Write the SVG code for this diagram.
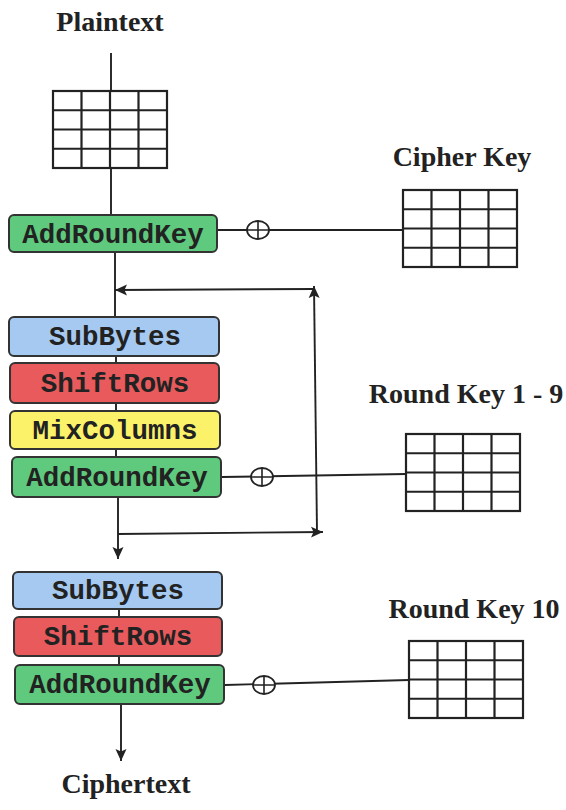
<svg xmlns="http://www.w3.org/2000/svg" width="566" height="810" viewBox="0 0 566 810">
<defs>
<style>
.lbl{font-family:"Liberation Serif","Times New Roman",serif;font-weight:bold;font-size:28px;fill:#222;text-anchor:middle}
.op{font-family:"Liberation Mono","Courier New",monospace;font-weight:bold;font-size:27.5px;fill:#222;text-anchor:middle}
.box{stroke:#333;stroke-width:2}
.sub{fill:#a5c9f0}
.shf{fill:#e85a5c}
.mix{fill:#fcf26a}
.ark{fill:#5fca7d}
.ln{stroke:#222;stroke-width:1.9;fill:none}
.grid{stroke:#222;stroke-width:2.2;fill:#fff}
.xor{stroke:#222;stroke-width:1.8;fill:#fff}
</style>
<marker id="ah" viewBox="0 0 12 12" refX="12" refY="6" markerWidth="12" markerHeight="12" markerUnits="userSpaceOnUse" orient="auto">
<path d="M0,0.5 L12,6 L0,11.5 L2.5,6 Z" fill="#222"/>
</marker>
<g id="gridtpl">
<rect class="grid" x="0" y="0" width="114" height="77"/>
<path class="grid" d="M28.5,0V77M57,0V77M85.5,0V77M0,19.25H114M0,38.5H114M0,57.75H114"/>
</g>
</defs>
<rect width="566" height="810" fill="#fff"/>

<g id="connectors">
<path class="ln" d="M111,53V215"/>
<path class="ln" d="M115,252V318"/>
<path class="ln" d="M116,356V458"/>
<path class="ln" d="M118,497V559" marker-end="url(#ah)"/>
<path class="ln" d="M119,609V666"/>
<path class="ln" d="M121,704V761" marker-end="url(#ah)"/>
<path class="ln" d="M118,534L323,532" marker-end="url(#ah)"/>
<path class="ln" d="M317,532L314,286" marker-end="url(#ah)"/>
<path class="ln" d="M314,289L115,290" marker-end="url(#ah)"/>
<path class="ln" d="M218,230H403"/>
<path class="ln" d="M222,477L406,474"/>
<path class="ln" d="M225,685L409,680"/>
</g>

<g id="plaintext"><text class="lbl" x="110" y="31">Plaintext</text></g>
<g id="state-grid"><use href="#gridtpl" x="53" y="91"/></g>

<g id="ark0"><rect class="box ark" x="9" y="215" width="208" height="37" rx="5"/><text class="op" x="113" y="243">AddRoundKey</text></g>
<g id="xor0"><ellipse class="xor" cx="258" cy="230" rx="11" ry="9"/><path class="ln" d="M247,230H269M258,221V239" style="stroke-width:1.6"/></g>
<g id="cipherkey"><text class="lbl" x="462" y="166">Cipher Key</text><use href="#gridtpl" x="403" y="190"/></g>

<g id="sub1"><rect class="box sub" x="9" y="317" width="210" height="39" rx="5"/><text class="op" x="115" y="345">SubBytes</text></g>
<g id="shift1"><rect class="box shf" x="10" y="363" width="209" height="40" rx="5"/><text class="op" x="115" y="392">ShiftRows</text></g>
<g id="mix1"><rect class="box mix" x="10" y="411" width="210" height="38" rx="5"/><text class="op" x="115" y="439">MixColumns</text></g>
<g id="ark1"><rect class="box ark" x="12" y="457" width="209" height="40" rx="5"/><text class="op" x="117" y="486">AddRoundKey</text></g>
<g id="xor1"><ellipse class="xor" cx="262" cy="477" rx="11" ry="9"/><path class="ln" d="M251,477H273M262,468V486" style="stroke-width:1.6"/></g>
<g id="roundkey19"><text class="lbl" x="466" y="403">Round Key 1 - 9</text><use href="#gridtpl" x="406" y="434"/></g>

<g id="sub2"><rect class="box sub" x="13" y="572" width="209" height="37" rx="5"/><text class="op" x="118" y="599">SubBytes</text></g>
<g id="shift2"><rect class="box shf" x="14" y="617" width="208" height="39" rx="5"/><text class="op" x="118" y="645">ShiftRows</text></g>
<g id="ark2"><rect class="box ark" x="15" y="665" width="209" height="39" rx="5"/><text class="op" x="120" y="693">AddRoundKey</text></g>
<g id="xor2"><ellipse class="xor" cx="264" cy="685" rx="11" ry="9"/><path class="ln" d="M253,685H275M264,676V694" style="stroke-width:1.6"/></g>
<g id="roundkey10"><text class="lbl" x="474" y="618">Round Key 10</text><use href="#gridtpl" x="409" y="641"/></g>

<g id="ciphertext"><text class="lbl" x="126" y="793">Ciphertext</text></g>
</svg>
